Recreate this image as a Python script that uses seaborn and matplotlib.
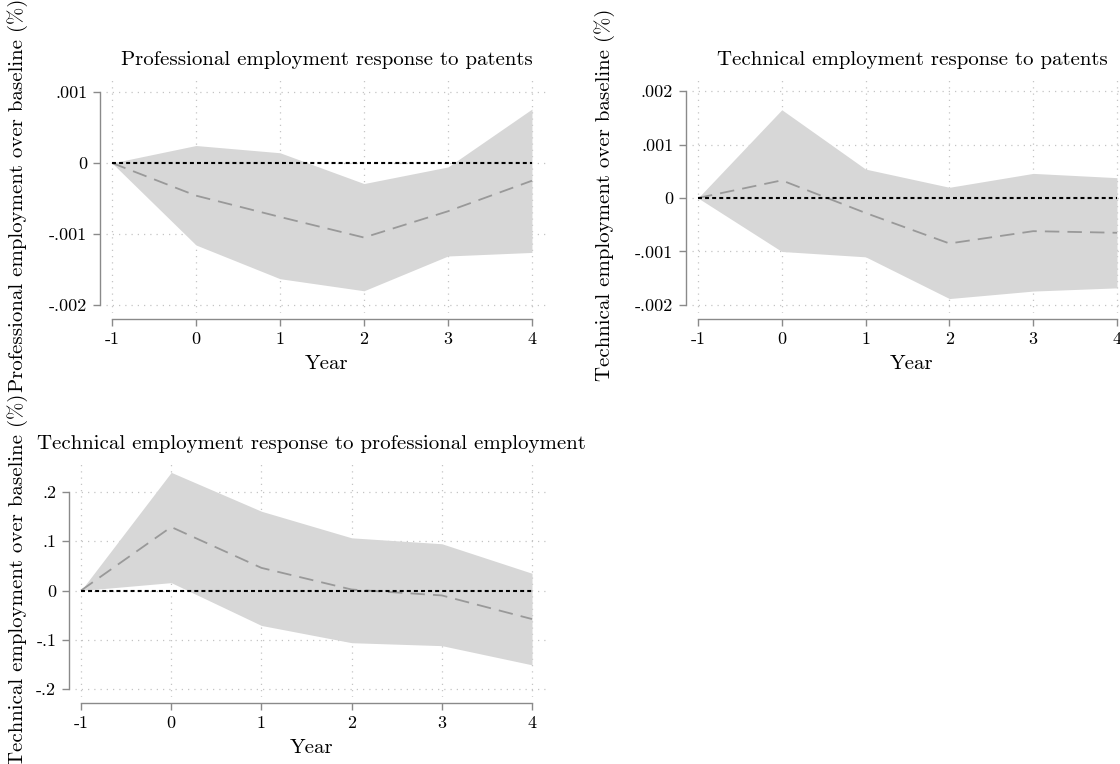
import matplotlib
matplotlib.use("Agg")
import matplotlib.pyplot as plt
import seaborn as sns
import numpy as np

sns.set_style("white")
plt.rcParams['font.family'] = ['cmr10', 'DejaVu Serif']
plt.rcParams['axes.unicode_minus'] = False
plt.rcParams['text.color'] = 'black'
plt.rcParams['axes.labelcolor'] = 'black'

years = [-1, 0, 1, 2, 3, 4]

# Panel 1: Professional employment response to patents
p1_est = [0, -0.00046, -0.00076, -0.00105, -0.00068, -0.00025]
p1_hi = [0, 0.000246, 0.000144, -0.00029, -0.000056, 0.00076]
p1_lo = [0, -0.001155, -0.00163, -0.0018, -0.00131, -0.00126]
p1_yticks = [0.001, 0, -0.001, -0.002]
p1_ylabels = [".001", "0", "-.001", "-.002"]

# Panel 2: Technical employment response to patents
p2_est = [0, 0.00033, -0.00028, -0.00085, -0.00062, -0.00065]
p2_hi = [0, 0.00165, 0.00054, 0.0002, 0.00046, 0.00038]
p2_lo = [0, -0.001, -0.0011, -0.00188, -0.00174, -0.00168]
p2_yticks = [0.002, 0.001, 0, -0.001, -0.002]
p2_ylabels = [".002", ".001", "0", "-.001", "-.002"]

# Panel 3: Technical employment response to professional employment
p3_est = [0, 0.129, 0.046, 0.002, -0.010, -0.058]
p3_hi = [0, 0.240, 0.161, 0.107, 0.095, 0.035]
p3_lo = [0, 0.016, -0.071, -0.106, -0.112, -0.151]
p3_yticks = [0.2, 0.1, 0, -0.1, -0.2]
p3_ylabels = [".2", ".1", "0", "-.1", "-.2"]

xtick_labels = ["-1", "0", "1", "2", "3", "4"]

titles = ["Professional employment response to patents",
          "Technical employment response to patents",
          "Technical employment response to professional employment"]
ylabels = ["Professional employment over baseline (%)",
           "Technical employment over baseline (%)",
           "Technical employment over baseline (%)"]

W, H = 1120, 764
fig = plt.figure(figsize=(W / 100, H / 100), dpi=100)


def px_axes(left, top, right, bottom):
    return fig.add_axes([left / W, 1 - bottom / H, (right - left) / W, (bottom - top) / H])


panels = [
    dict(box=(106, 77, 547, 313), est=p1_est, hi=p1_hi, lo=p1_lo, yt=p1_yticks, yl=p1_ylabels,
         xlim=(-1.0714, 4.179), ylim=(-0.002113, 0.001211), ylab_x=-0.177, title_pad=8.5,
         title=titles[0], ylabel=ylabels[0]),
    dict(box=(692, 77, 1132, 313), est=p2_est, hi=p2_hi, lo=p2_lo, yt=p2_yticks, yl=p2_ylabels,
         xlim=(-1.0716, 4.179), ylim=(-0.00215, 0.002262), ylab_x=-0.175, title_pad=8.5,
         title=titles[1], ylabel=ylabels[1]),
    dict(box=(75, 463, 548, 697), est=p3_est, hi=p3_hi, lo=p3_lo, yt=p3_yticks, yl=p3_ylabels,
         xlim=(-1.0665, 4.177), ylim=(-0.2163, 0.259), ylab_x=-0.099, title_pad=10,
         title=titles[2], ylabel=ylabels[2]),
]

band_color = "#d7d7d7"
line_color = "#999999"
axis_color = "#8a8a8a"
grid_color = "#c4c4c4"

for p in panels:
    ax = px_axes(*p["box"])
    ax.fill_between(years, p["lo"], p["hi"], color=band_color, linewidth=0, zorder=1)
    sns.lineplot(x=years, y=p["est"], ax=ax, color=line_color, linewidth=1.3, zorder=3)
    ax.lines[-1].set_dashes([8.0, 4.5])
    ax.plot([years[0], years[-1]], [0, 0], color="black", linewidth=1.5,
            dashes=(1.9, 1.5), zorder=4)

    ax.set_xlim(*p["xlim"])
    ax.set_ylim(*p["ylim"])
    ax.set_xticks(years)
    ax.set_xticklabels(xtick_labels)
    ax.set_yticks(p["yt"])
    ax.set_yticklabels(p["yl"])

    ax.grid(True, color=grid_color, linestyle=(0, (1, 4)), linewidth=0.9, zorder=0)
    ax.set_axisbelow(True)

    for s in ["top", "right"]:
        ax.spines[s].set_visible(False)
    ax.spines["left"].set_position(("outward", 4.5))
    ax.spines["bottom"].set_position(("outward", 4.5))
    ax.spines["left"].set_bounds(min(p["yt"]), max(p["yt"]))
    ax.spines["bottom"].set_bounds(years[0], years[-1])
    for s in ["left", "bottom"]:
        ax.spines[s].set_color(axis_color)
        ax.spines[s].set_linewidth(1.0)
    ax.tick_params(axis="both", direction="out", length=5, width=1.0, color=axis_color,
                   labelsize=13, labelcolor="black", pad=4, bottom=True, left=True)

    ax.set_title(p["title"], fontsize=15, pad=p["title_pad"], color="black")
    ax.set_xlabel("Year", fontsize=15, labelpad=6)
    ax.set_ylabel(p["ylabel"], fontsize=15)
    ax.yaxis.set_label_coords(p["ylab_x"], 0.5)

fig.savefig("out.png", dpi=100)
